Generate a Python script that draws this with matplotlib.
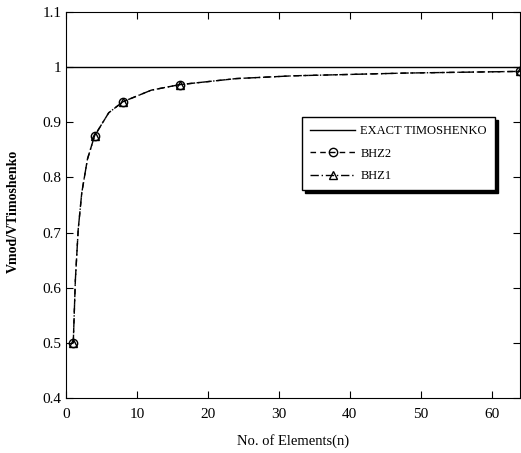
import matplotlib.pyplot as plt

# Relacion de cortante frente al numero de elementos
n_elem = [1, 1.3, 1.7, 2.2, 3, 4, 6, 8, 12, 16, 24, 32, 48, 64]
bhz2 = [0.5, 0.615, 0.706, 0.772, 0.833, 0.875, 0.917, 0.937, 0.958, 0.968, 0.979, 0.984, 0.989, 0.992]
bhz1 = [0.5, 0.615, 0.706, 0.772, 0.833, 0.875, 0.917, 0.937, 0.958, 0.968, 0.979, 0.984, 0.989, 0.992]
marcas = [0, 5, 7, 9, 13]  # solo los puntos calculados llevan marcador
exacto = 1.0

plt.rcParams['font.family'] = ['Liberation Serif', 'DejaVu Serif']

fig = plt.figure(figsize=(5.21, 4.53), dpi=100)
ax = fig.add_axes([0.127, 0.121, 0.871, 0.853])

ax.axhline(exacto, color='black', lw=1.0, label='EXACT TIMOSHENKO')
ax.plot(n_elem, bhz2, color='black', lw=1.0, ls=(0, (4, 3)), marker='o', mfc='none',
        ms=6, markevery=marcas, label='BHZ2', clip_on=False)
ax.plot(n_elem, bhz1, color='black', lw=1.0, ls=(0, (6, 2, 1, 2)), marker='^', mfc='none',
        ms=6, markevery=marcas, label='BHZ1', clip_on=False)

ax.set_xlim(0, 64)
ax.set_ylim(0.4, 1.1)
ax.set_xticks([0, 10, 20, 30, 40, 50, 60])
ax.set_yticks([0.4, 0.5, 0.6, 0.7, 0.8, 0.9, 1.0, 1.1])
ax.set_yticklabels(['0.4', '0.5', '0.6', '0.7', '0.8', '0.9', '1', '1.1'])
ax.tick_params(direction='in', top=True, right=True, length=5, labelsize=11)
ax.tick_params(axis='x', pad=7)

ax.set_xlabel('No. of Elements(n)', fontsize=10.5)
ax.xaxis.set_label_coords(0.5, -0.092)
ax.set_ylabel('Vmod/VTimoshenko', fontsize=10, fontweight='bold')
ax.yaxis.set_label_coords(-0.103, 0.484)

leg = ax.legend(loc='upper left', bbox_to_anchor=(0.52, 0.728), borderaxespad=0,
                fontsize=9, handlelength=3.6, handletextpad=0.4,
                frameon=True, fancybox=False, edgecolor='black',
                shadow={'color': 'black', 'alpha': 1.0, 'ox': 2, 'oy': -2},
                borderpad=0.65, labelspacing=0.85)
leg.get_frame().set_linewidth(1.0)

fig.savefig('out.png', dpi=100)
